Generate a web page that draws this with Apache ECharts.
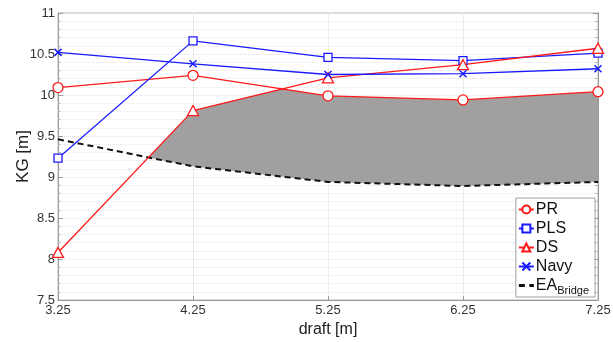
<!DOCTYPE html>
<html>
<head>
<meta charset="utf-8">
<script src="https://cdn.jsdelivr.net/npm/echarts@6/dist/echarts.min.js"></script>
<style>
  html, body { margin: 0; padding: 0; background: #fff; }
  #chart { width: 613px; height: 342px; }
</style>
</head>
<body>
<div id="chart"></div>
<script>
// values
var draft = [3.25, 4.25, 5.25, 6.25, 7.25];
var pr = [10.09, 10.24, 9.99, 9.94, 10.04];
var pls = [9.23, 10.66, 10.46, 10.42, 10.51];
var ds = [8.08, 9.81, 10.21, 10.37, 10.57];
var navy = [10.52, 10.38, 10.25, 10.26, 10.32];
var eaBridge = [9.46, 9.13, 8.94, 8.89, 8.94];
var yTicks = [7.5, 8, 8.5, 9, 9.5, 10, 10.5, 11];

var RED = "#ff1a1a";
var BLUE = "#1a1aff";
var FONT = "Liberation Sans";

function pairs(ys) {
  return draft.map(function (x, i) { return [x, ys[i]]; });
}

// value of a polyline at x (used only for the shaded region outline)
function at(ys, x) {
  for (var i = 0; i < draft.length - 1; i++) {
    if (x <= draft[i + 1] + 1e-9) {
      var t = (x - draft[i]) / (draft[i + 1] - draft[i]);
      return ys[i] + t * (ys[i + 1] - ys[i]);
    }
  }
  return ys[ys.length - 1];
}

var chart = echarts.init(document.getElementById("chart"));

var option = {
  animation: false,
  grid: { left: 58, right: 15, top: 13, bottom: 42, outerBoundsMode: "none", containLabel: false,
    show: true, borderColor: "#b8b8b8", borderWidth: 1 },
  xAxis: {
    type: "value",
    min: 3.25,
    max: 7.25,
    interval: 1,
    name: "draft [m]",
    nameLocation: "middle",
    nameGap: 21,
    nameTextStyle: { fontSize: 16, color: "#222", fontFamily: FONT },
    axisLine: { lineStyle: { color: "#999" } },
    axisTick: { inside: true, length: 4, lineStyle: { color: "#999" } },
    axisLabel: { color: "#333", fontSize: 13, fontFamily: FONT, margin: 4,
      formatter: function (v) { return v.toFixed(2); } },
    splitLine: { show: true, lineStyle: { color: "#ebebeb", width: 1 } }
  },
  yAxis: [
    {
      type: "value",
      min: yTicks[0],
      max: yTicks[yTicks.length - 1],
      interval: 0.5,
      name: "KG [m]",
      nameLocation: "middle",
      nameGap: 26,
      nameMoveOverlap: false,
      nameTextStyle: { fontSize: 17, color: "#222", fontFamily: FONT },
      axisLine: { show: true, lineStyle: { color: "#999" } },
      axisTick: { show: true, inside: true, length: 5, lineStyle: { color: "#999" } },
      minorTick: { show: true, splitNumber: 5, length: 3, lineStyle: { color: "#bbb" } },
      axisLabel: { color: "#333", fontSize: 13, fontFamily: FONT, margin: 3 },
      splitLine: { show: true, lineStyle: { color: "#e2e2e2", type: "dotted" } },
      minorSplitLine: { show: true, lineStyle: { color: "#e6e6e6", type: "dotted" } }
    },
    {
      type: "value",
      min: yTicks[0],
      max: yTicks[yTicks.length - 1],
      interval: 0.5,
      position: "right",
      axisLine: { show: true, lineStyle: { color: "#999" } },
      axisTick: { show: true, inside: true, length: 5, lineStyle: { color: "#999" } },
      minorTick: { show: true, splitNumber: 5, length: 3, lineStyle: { color: "#bbb" } },
      axisLabel: { show: false },
      splitLine: { show: false }
    }
  ],
  legend: {
    orient: "vertical",
    right: 18,
    top: 198,
    itemGap: 2,
    itemWidth: 15,
    itemHeight: 10,
    padding: [3, 6, 1, 2],
    backgroundColor: "#fff",
    borderColor: "#a0a0a0",
    borderWidth: 1,
    data: ["PR", "PLS", "DS", "Navy",
      { name: "EA Bridge", icon: "path://M0,4h4v2h-4zM7,4h3v2h-3z", itemStyle: { color: "#111" } }],
    textStyle: {
      fontSize: 16,
      lineHeight: 17,
      color: "#111",
      fontFamily: FONT,
      padding: [0, 0, 0, -3],
      rich: {
        a: { fontSize: 16, color: "#111", fontFamily: FONT },
        s: { fontSize: 11, color: "#111", fontFamily: FONT, padding: [10, 0, 0, 0] }
      }
    },
    formatter: function (name) {
      if (name === "EA Bridge") return "{a|EA}{s|Bridge}";
      return name;
    }
  },
  series: [
    {
      name: "shade",
      type: "custom",
      z: 1,
      silent: true,
      data: [0],
      renderItem: function (params, api) {
        var upper = [], lower = [];
        for (var k = 0; k <= 400; k++) {
          var x = draft[0] + k * 0.01;
          var top = Math.min(at(pr, x), at(pls, x), at(ds, x), at(navy, x));
          var bot = at(eaBridge, x);
          if (top > bot) {
            upper.push(api.coord([x, top]));
            lower.unshift(api.coord([x, bot]));
          }
        }
        return {
          type: "polygon",
          shape: { points: upper.concat(lower) },
          style: { fill: "#a19fa0", stroke: "none" }
        };
      }
    },
    {
      name: "EA Bridge",
      type: "line",
      z: 3,
      data: pairs(eaBridge),
      symbol: "none",
      lineStyle: { color: "#111", width: 2, type: [6, 4] },
      itemStyle: { color: "#111" }
    },
    {
      name: "PR",
      type: "line",
      z: 4,
      data: pairs(pr),
      symbol: "circle",
      symbolSize: 10,
      lineStyle: { color: RED, width: 1.3 },
      itemStyle: { color: "#fff", borderColor: RED, borderWidth: 1.3 }
    },
    {
      name: "PLS",
      type: "line",
      z: 4,
      data: pairs(pls),
      symbol: "rect",
      symbolSize: 8,
      lineStyle: { color: BLUE, width: 1.3 },
      itemStyle: { color: "#fff", borderColor: BLUE, borderWidth: 1.3 }
    },
    {
      name: "DS",
      type: "line",
      z: 4,
      data: pairs(ds),
      symbol: "triangle",
      symbolSize: [11, 10],
      lineStyle: { color: RED, width: 1.3 },
      itemStyle: { color: "#fff", borderColor: RED, borderWidth: 1.3 }
    },
    {
      name: "Navy",
      type: "line",
      z: 4,
      data: pairs(navy),
      symbol: "path://M0,0L10,10M10,0L0,10",
      symbolSize: 7,
      lineStyle: { color: BLUE, width: 1.3 },
      itemStyle: { color: BLUE, borderColor: BLUE, borderWidth: 1.5 }
    }
  ]
};

chart.setOption(option);
</script>
</body>
</html>
